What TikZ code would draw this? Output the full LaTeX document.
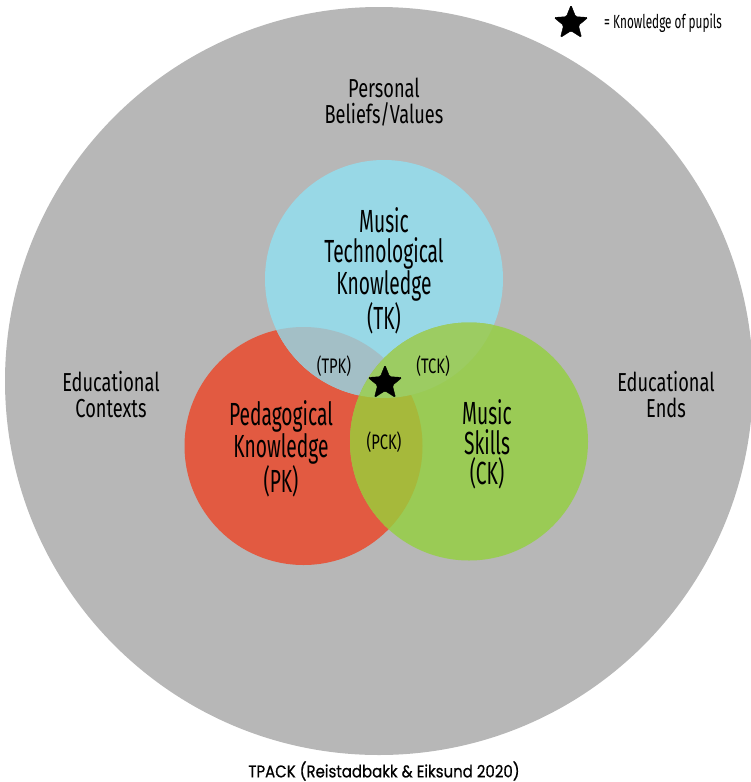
\documentclass[tikz,border=0pt]{standalone}
\usepackage{fontspec}
\setmainfont{Fira Sans}[FakeStretch=0.6]
\newfontfamily\outerfont{Fira Sans}[FakeStretch=0.7]
\newfontfamily\smallfont{Fira Sans}[FakeStretch=0.7]
\newfontfamily\keyfont{Fira Sans}[FakeStretch=0.62]
\newfontfamily\titlefont{Poppins}[FakeStretch=0.88, FakeBold=0.6]
\usetikzlibrary{shapes.geometric}
\definecolor{ctxgrey}{HTML}{B7B7B7}
\definecolor{tkblue}{HTML}{98D8E6}
\definecolor{pkred}{HTML}{E25A41}
\definecolor{ckgreen}{HTML}{9ACB55}
\definecolor{tpkcol}{HTML}{A3BFC6}
\definecolor{tckcol}{HTML}{9CCC62}
\definecolor{pckcol}{HTML}{A6B93B}
\begin{document}
\begin{tikzpicture}[x=1pt, y=-1pt,
  biglabel/.style={align=center, font=\fontsize{32}{30}\selectfont},
  outerlabel/.style={align=center, font=\outerfont\fontsize{26}{26}\selectfont},
  smalllabel/.style={font=\smallfont\fontsize{21}{22}\selectfont},
  pupilstar/.style={star, star points=5, star point ratio=2.3, fill=black,
    draw=black, rounded corners=1.5pt, minimum size=36, inner sep=0pt}]
  \useasboundingbox (0,0) rectangle (751,782);
  % Circles
  \fill[ctxgrey] (379,381) circle[radius=374];
  \fill[pkred] (303.5,446) circle[radius=119];
  \fill[tkblue] (384,279) circle[radius=119];
  \fill[ckgreen] (469,441.5) circle[radius=119];
  % Overlaps
  \begin{scope}
    \clip (303.5,446) circle[radius=119];
    \fill[tpkcol] (384,279) circle[radius=119];
    \fill[pckcol] (469,441.5) circle[radius=119];
  \end{scope}
  \begin{scope}
    \clip (384,279) circle[radius=119];
    \fill[tckcol] (469,441.5) circle[radius=119];
  \end{scope}
  % Labels
  \node[outerlabel] (beliefs) at (384,102) {Personal\\Beliefs/Values};
  \node[outerlabel] (contexts) at (111,395) {Educational\\Contexts};
  \node[outerlabel] (ends) at (666,395) {Educational\\Ends};
  \node[biglabel] (tk) at (384,271) {Music\\Technological\\Knowledge\\(TK)};
  \node[biglabel] (pk) at (281,449) {Pedagogical\\Knowledge\\(PK)};
  \node[biglabel] (ck) at (487,444) {Music\\Skills\\(CK)};
  \node[smalllabel] (tpk) at (334,366) {(TPK)};
  \node[smalllabel] (tck) at (433,366) {(TCK)};
  \node[smalllabel] (pck) at (384,442) {(PCK)};
  \node[pupilstar] (pupils) at (385,383) {};
  % Legend
  \node[pupilstar] (keystar) at (571,23) {};
  \node[font=\keyfont\fontsize{19}{20}\selectfont, anchor=west, inner sep=0pt] (keytext) at (604,23) {= Knowledge of pupils};
  \node[font=\titlefont\fontsize{17}{18}\selectfont] (title) at (384,771) {TPACK (Reistadbakk \& Eiksund 2020)};
\end{tikzpicture}
\end{document}
